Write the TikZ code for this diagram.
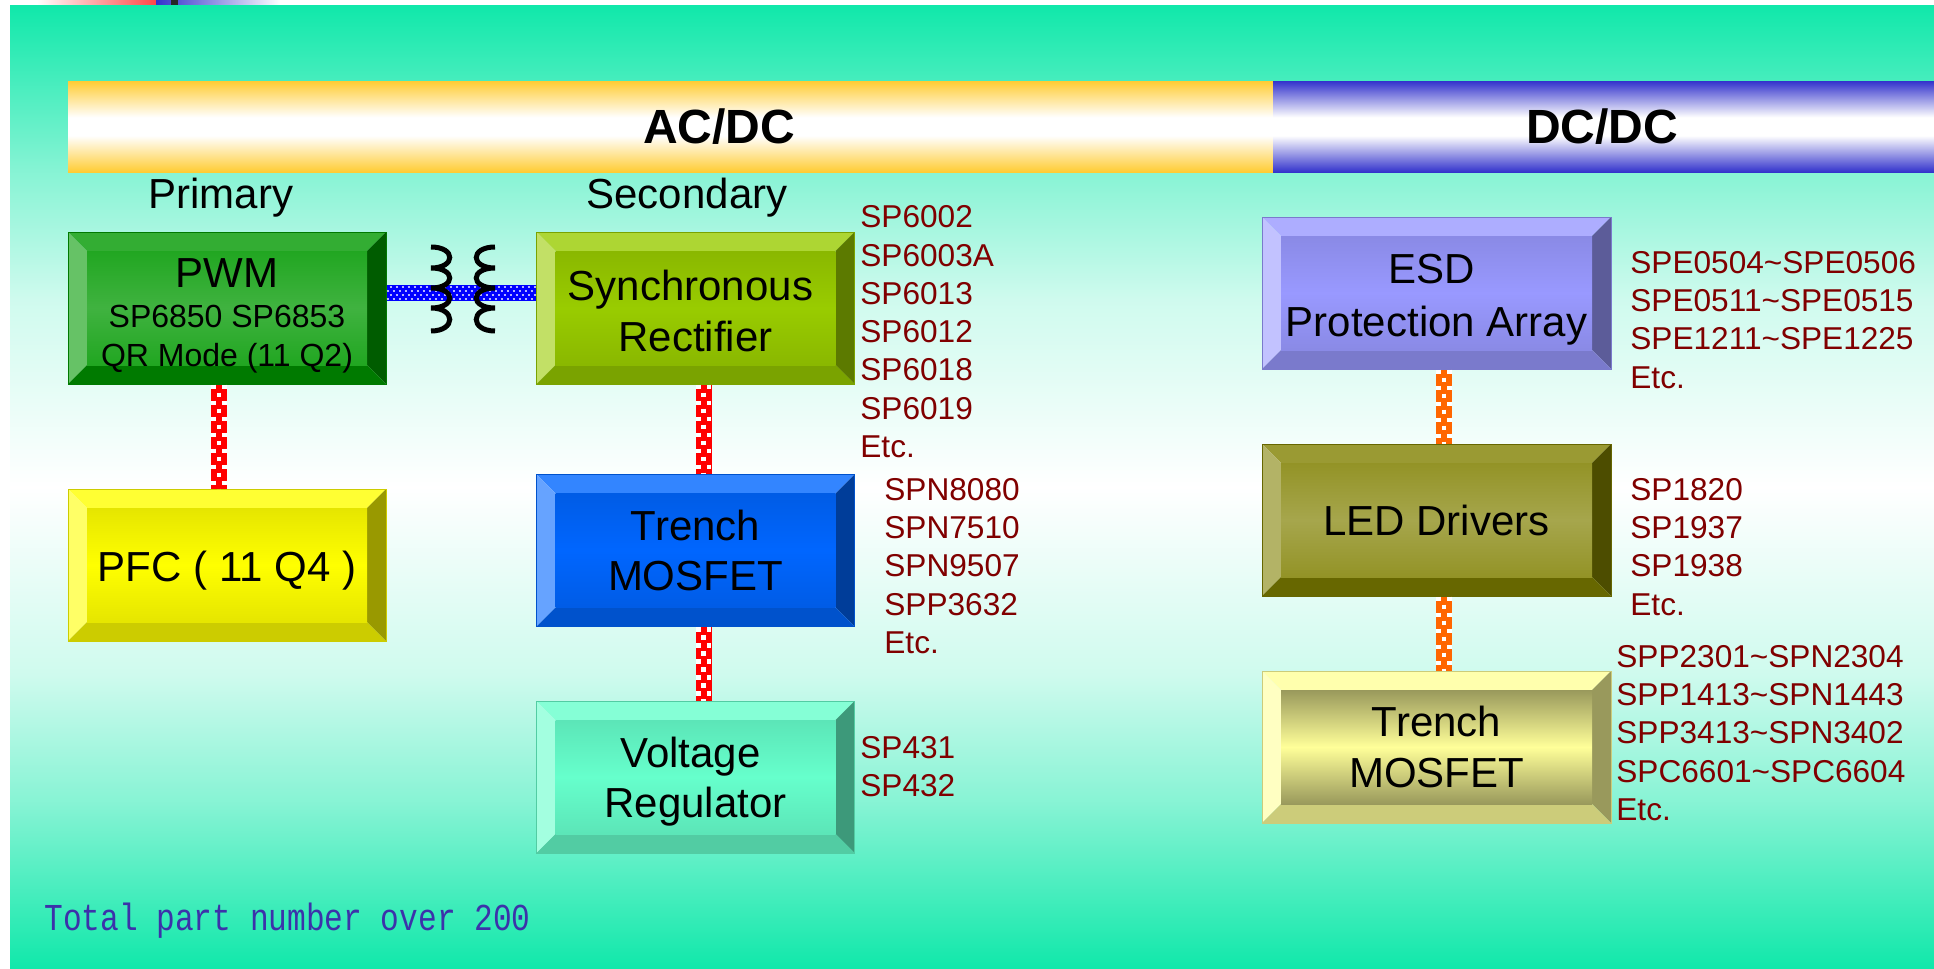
\documentclass[tikz,border=0pt]{standalone}
\usepackage{fontspec}
\setmainfont{Liberation Sans}
\newfontfamily\totalfont[FakeStretch=0.82]{Liberation Mono}
\usetikzlibrary{positioning}

\definecolor{bgteal}{RGB}{16,232,170}
\definecolor{barorange}{RGB}{255,204,51}
\definecolor{barblue}{RGB}{51,51,204}
\definecolor{partred}{RGB}{128,0,0}
\definecolor{totalblue}{RGB}{60,50,170}
\definecolor{pwmbase}{RGB}{0,153,0}
\definecolor{syncbase}{RGB}{153,204,0}
\definecolor{pfcbase}{RGB}{255,255,0}
\definecolor{trenchbase}{RGB}{0,102,255}
\definecolor{vregbase}{RGB}{102,255,204}
\definecolor{esdbase}{RGB}{153,153,255}
\definecolor{ledbase}{RGB}{128,128,0}
\definecolor{lightbase}{RGB}{255,255,153}
\definecolor{linkorange}{RGB}{255,102,0}

\pgfdeclareverticalshading{bgshade}{100bp}{color(0bp)=(bgteal); color(25bp)=(bgteal);
  color(33.7bp)=(bgteal!50!white); color(40.3bp)=(bgteal!20!white); color(50bp)=(white);
  color(59.7bp)=(bgteal!20!white); color(66.3bp)=(bgteal!50!white); color(75bp)=(bgteal); color(100bp)=(bgteal)}
\pgfdeclareverticalshading{orangebar}{100bp}{color(0bp)=(barorange); color(25bp)=(barorange);
  color(45bp)=(white); color(55bp)=(white); color(75bp)=(barorange); color(100bp)=(barorange)}
\pgfdeclareverticalshading{bluebar}{100bp}{color(0bp)=(barblue); color(25bp)=(barblue);
  color(45bp)=(white); color(55bp)=(white); color(75bp)=(barblue); color(100bp)=(barblue)}

\tikzset{
  bevelbox/.style n args={3}{
    draw=#1!80!black, line width=0.5pt, inner sep=0pt, align=center,
    minimum width=159pt, minimum height=76pt,
    font=\fontsize{21}{25.3}\selectfont,
    path picture={
      \coordinate (nw) at (path picture bounding box.north west);
      \coordinate (ne) at (path picture bounding box.north east);
      \coordinate (sw) at (path picture bounding box.south west);
      \coordinate (se) at (path picture bounding box.south east);
      \coordinate (inw) at ([shift={(19,19)}]nw);
      \coordinate (ine) at ([shift={(-19,19)}]ne);
      \coordinate (isw) at ([shift={(19,-19)}]sw);
      \coordinate (ise) at ([shift={(-19,-19)}]se);
      \fill[#1!80!white] (nw) -- (ne) -- (ine) -- (inw) -- cycle;
      \fill[#1!60!white] (nw) -- (sw) -- (isw) -- (inw) -- cycle;
      \fill[#1!60!black] (ne) -- (se) -- (ise) -- (ine) -- cycle;
      \fill[#1!80!black] (sw) -- (se) -- (ise) -- (isw) -- cycle;
      \shade[top color=#2, bottom color=#2, middle color=#3] (inw) rectangle (ise);
    }},
  widebox/.style={minimum width=174.5pt},
  topbar/.style={minimum height=45.5pt, inner sep=0pt, shading=#1},
  barlabel/.style={font=\fontsize{24}{28}\selectfont\bfseries},
  sidelabel/.style={font=\fontsize{21}{25}\selectfont},
  partlist/.style={anchor=north west, inner sep=0pt, align=left, text=partred,
    font=\fontsize{15.8}{19.12}\selectfont},
  vlink/.style={line width=8pt, draw=#1,
    postaction={draw=white, line width=2.4pt, dash pattern=on 2.4pt off 5.6pt, transform canvas={xshift=-2.7pt}},
    postaction={draw=white, line width=2.4pt, dash pattern=on 2.4pt off 5.6pt, dash phase=4pt},
    postaction={draw=white, line width=2.4pt, dash pattern=on 2.4pt off 5.6pt, transform canvas={xshift=2.7pt}}},
  hlink/.style={line width=8pt, draw=blue,
    postaction={draw=white, opacity=0.7, line width=1.1pt, dash pattern=on 1pt off 2pt, transform canvas={yshift=-3pt}},
    postaction={draw=white, opacity=0.7, line width=1.1pt, dash pattern=on 1pt off 2pt, dash phase=1.5pt, transform canvas={yshift=-1pt}},
    postaction={draw=white, opacity=0.7, line width=1.1pt, dash pattern=on 1pt off 2pt, transform canvas={yshift=1pt}},
    postaction={draw=white, opacity=0.7, line width=1.1pt, dash pattern=on 1pt off 2pt, dash phase=1.5pt, transform canvas={yshift=3pt}}},
  coil/.style={line width=2.5pt, draw=black},
}

\begin{document}
\begin{tikzpicture}[x=0.5pt, y=-0.5pt]
\def\xa{227}
\def\xb{695.5}
\def\xc{1436.5}

\useasboundingbox (0,0) rectangle (1934,969);
\fill[white] (0,0) rectangle (1934,969);

% strip above the slide
\shade[left color=white, right color=red!72!white] (37,0) rectangle (156,5);
\shade[left color=barblue, right color=white] (156,0) rectangle (280,5);
\fill[black!85] (171,0) rectangle (178,5);
\shade[shading=bgshade] (10,5) rectangle (1934,969);

\node[topbar=orangebar, minimum width=602.5pt] (acbar) at (670.5,126.5) {};
\node[topbar=bluebar, minimum width=330.5pt] (dcbar) at (1603.5,126.5) {};
\node[barlabel] (ac) at (719,127) {AC/DC};
\node[barlabel] (dc) at (1602,127) {DC/DC};

\node[sidelabel] (prim) at (221,198) {Primary};
\node[sidelabel] (sec) at (687,198) {Secondary};

\node[bevelbox={pwmbase}{pwmbase!87!white}{pwmbase!75!white}] (pwm) at (\xa,308)
  {\rule{0pt}{22pt}PWM\\[-5.3pt]{\fontsize{16}{19}\selectfont SP6850 SP6853}\\[-5.7pt]{\fontsize{16}{19}\selectfont QR Mode (11 Q2)}};
\node[bevelbox={pfcbase}{pfcbase!90!black}{pfcbase}] (pfc) at (\xa,565) {\rule{0pt}{21pt}PFC ( 11 Q4 )};
\node[bevelbox={syncbase}{syncbase!90!black}{syncbase}] (sync) at (\xb,308) {\rule{0pt}{18pt}Synchronous\kern5pt\\Rectifier};
\node[bevelbox={trenchbase}{trenchbase!90!black}{trenchbase}] (trench) at (\xb,550.5) {Trench\\MOSFET};
\node[bevelbox={vregbase}{vregbase!90!black}{vregbase}] (vreg) at (\xb,777) {\rule{0pt}{20pt}Voltage\kern5pt\\Regulator};
\node[bevelbox={esdbase}{esdbase!90!black}{esdbase}, widebox] (esd) at (\xc,293) {\rule{0pt}{21.5pt}ESD\kern5pt\\[1.25pt]Protection Array};
\node[bevelbox={ledbase}{ledbase!85!white}{ledbase!70!white}, widebox] (led) at (\xc,520) {LED Drivers};
\node[bevelbox={lightbase}{lightbase!60!black}{lightbase}, widebox] (mosfet) at (\xc,747) {Trench\\MOSFET};

\node[partlist] (syncparts) at (860,205.5) {SP6002\\SP6003A\\SP6013\\SP6012\\SP6018\\SP6019\\Etc.};
\node[partlist] (trenchparts) at (884,478) {SPN8080\\SPN7510\\SPN9507\\SPP3632\\Etc.};
\node[partlist] (vregparts) at (860,736) {SP431\\SP432};
\node[partlist] (esdparts) at (1630,251) {SPE0504\textasciitilde SPE0506\\SPE0511\textasciitilde SPE0515\\SPE1211\textasciitilde SPE1225\\Etc.};
\node[partlist] (ledparts) at (1630,478) {SP1820\\SP1937\\SP1938\\Etc.};
\node[partlist] (mosparts) at (1616,645) {SPP2301\textasciitilde SPN2304\\SPP1413\textasciitilde SPN1443\\SPP3413\textasciitilde SPN3402\\SPC6601\textasciitilde SPC6604\\Etc.};

\node[anchor=base west, inner sep=0pt, text=totalblue, font=\fontsize{19}{22}\totalfont] (total) at (44,930) {Total part number over 200};

\draw[vlink=red] ([xshift=-4pt]pwm.south) -- ([xshift=-4pt]pfc.north);
\draw[vlink=red] ([xshift=4pt]sync.south) -- ([xshift=4pt]trench.north);
\draw[vlink=red] ([xshift=4pt]trench.south) -- ([xshift=4pt]vreg.north);
\draw[vlink=linkorange] ([xshift=3.75pt]esd.south) -- ([xshift=3.75pt]led.north);
\draw[vlink=linkorange] ([xshift=3.75pt]led.south) -- ([xshift=3.75pt]mosfet.north);
\draw[hlink] ([yshift=7.5pt]pwm.east) -- ([yshift=7.5pt]sync.west);

% transformer windings
\foreach \xw/\dw in {431/25, 495/-25}
  \draw[coil] (\xw,247) .. controls +(\dw,0) and +(\dw,0) .. (\xw,268)
    .. controls +(\dw,0) and +(\dw,0) .. (\xw,288)
    .. controls +(\dw,0) and +(\dw,0) .. (\xw,308)
    .. controls +(\dw,0) and +(\dw,0) .. (\xw,331);
\end{tikzpicture}
\end{document}
